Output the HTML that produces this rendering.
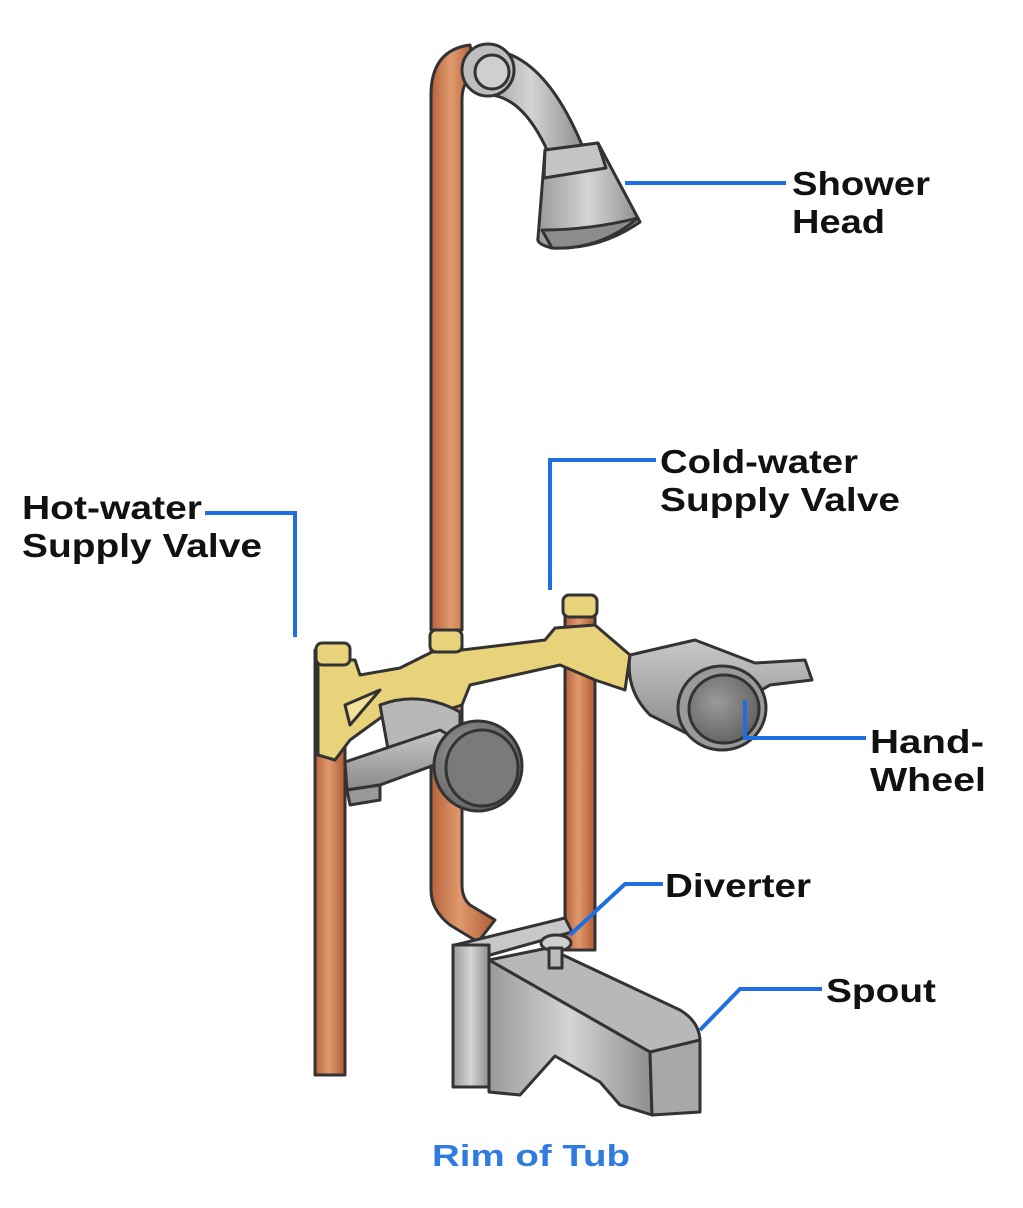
<!DOCTYPE html>
<html><head><meta charset="utf-8"><style>
html,body{margin:0;padding:0;background:#fff;}
svg{display:block;}
text{font-family:"Liberation Sans",sans-serif;font-weight:bold;}
</style></head><body>
<svg width="1023" height="1208" viewBox="0 0 1023 1208" xmlns="http://www.w3.org/2000/svg">
<defs>
<linearGradient id="cu" x1="0" x2="1"><stop offset="0" stop-color="#b8623a"/><stop offset="0.45" stop-color="#e09a6e"/><stop offset="1" stop-color="#b05a34"/></linearGradient>
<linearGradient id="gr" x1="0" x2="1"><stop offset="0" stop-color="#9a9a9a"/><stop offset="0.5" stop-color="#d4d4d4"/><stop offset="1" stop-color="#8e8e8e"/></linearGradient>
<linearGradient id="gr2" x1="0" y1="0" x2="0" y2="1"><stop offset="0" stop-color="#c8c8c8"/><stop offset="1" stop-color="#8a8a8a"/></linearGradient>
<radialGradient id="disc" cx="0.4" cy="0.4" r="0.7"><stop offset="0" stop-color="#9a9a9a"/><stop offset="1" stop-color="#5e5e5e"/></radialGradient>
</defs>
<g stroke="#333" stroke-width="3" stroke-linejoin="round">
<rect x="315" y="650" width="30" height="425" fill="url(#cu)"/>
<rect x="565" y="600" width="30" height="350" fill="url(#cu)"/>
<path d="M431 640 L431 890 Q431 910 450 925 L478 942 L495 920 L470 905 Q462 898 462 885 L462 640 Z" fill="url(#cu)"/>
<path d="M431 630 L431 95 Q431 50 470 45 L475 75 Q462 80 462 100 L462 630 Z" fill="url(#cu)"/>
<path d="M480 50 Q540 45 582 145 L548 152 Q520 90 480 95 Z" fill="url(#gr)"/>
<circle cx="488" cy="70" r="26" fill="#bdbdbd"/>
<circle cx="492" cy="72" r="17" fill="#cfcfcf"/>
<path d="M545 150 L598 143 L640 222 Q600 250 552 248 Q536 244 538 238 Z" fill="url(#gr)"/>
<path d="M545 150 L598 143 L606 168 L544 178 Z" fill="#c4c4c4"/>
<path d="M542 230 Q590 230 638 218 Q600 250 552 248 Z" fill="#8c8c8c"/>
<path d="M318 660 L355 660 L360 675 L400 668 L432 652 L462 650 L545 640 L555 628 L595 625 L630 655 L625 690 L595 680 L560 665 L470 685 L462 705 L440 712 L405 700 L350 740 L335 760 L318 755 Z" fill="#e8d27a"/>
<path d="M345 705 L380 690 L350 725 Z" fill="#f2e29a"/>
<rect x="316" y="643" width="34" height="22" rx="6" fill="#e8d27a"/>
<rect x="430" y="630" width="32" height="22" rx="6" fill="#e8d27a"/>
<rect x="563" y="595" width="34" height="22" rx="6" fill="#e8d27a"/>
<path d="M380 705 Q420 690 460 712 L460 760 L390 760 Z" fill="#b8b8b8"/>
<path d="M345 762 L440 730 L475 750 L380 785 L347 790 Z" fill="url(#gr2)"/>
<path d="M347 790 L380 785 L380 800 L350 805 Z" fill="#999"/>
<ellipse cx="478" cy="766" rx="44" ry="45" fill="url(#disc)"/>
<ellipse cx="482" cy="768" rx="36" ry="38" fill="#7a7a7a"/>
<path d="M630 655 L695 640 L755 663 L805 660 L812 680 L770 685 L745 700 L700 740 L650 715 Q625 690 630 655 Z" fill="url(#gr2)"/>
<ellipse cx="722" cy="708" rx="44" ry="42" fill="#9a9a9a"/>
<ellipse cx="724" cy="709" rx="35" ry="34" fill="url(#disc)"/>
<path d="M455 945 L565 918 L572 932 L490 955 Z" fill="#c8c8c8"/>
<rect x="453" y="945" width="36" height="142" fill="url(#gr)"/>
<path d="M489 960 L548 948 L680 1010 Q700 1022 700 1042 L650 1052 Z" fill="#b8b8b8"/>
<path d="M489 960 L650 1052 L652 1115 L620 1105 L600 1082 L555 1056 L520 1095 L489 1092 Z" fill="url(#gr)"/>
<path d="M650 1052 L700 1040 L700 1112 L652 1115 Z" fill="#a8a8a8"/>
<ellipse cx="556" cy="943" rx="15" ry="8" fill="#cfcfcf"/>
<rect x="549" y="948" width="13" height="20" fill="#bbb"/>
</g>
<g stroke="#1f6fe0" stroke-width="4" fill="none">
<path d="M625 183 L786 183"/>
<path d="M550 590 L550 460 L656 460"/>
<path d="M205 513 L295 513 L295 637"/>
<path d="M745 700 L745 738 L866 738"/>
<path d="M663 884 L625 884 L570 935"/>
<path d="M822 989 L740 989 L700 1030"/>
</g>
<g fill="#111" font-size="33">
<text x="792" y="195" textLength="138" lengthAdjust="spacingAndGlyphs">Shower</text>
<text x="792" y="233" textLength="93" lengthAdjust="spacingAndGlyphs">Head</text>
<text x="660" y="473" textLength="198" lengthAdjust="spacingAndGlyphs">Cold-water</text>
<text x="660" y="511" textLength="240" lengthAdjust="spacingAndGlyphs">Supply Valve</text>
<text x="22" y="519" textLength="180" lengthAdjust="spacingAndGlyphs">Hot-water</text>
<text x="22" y="557" textLength="240" lengthAdjust="spacingAndGlyphs">Supply Valve</text>
<text x="870" y="753" textLength="114" lengthAdjust="spacingAndGlyphs">Hand-</text>
<text x="870" y="791" textLength="116" lengthAdjust="spacingAndGlyphs">Wheel</text>
<text x="665" y="897" textLength="146" lengthAdjust="spacingAndGlyphs">Diverter</text>
<text x="826" y="1002" textLength="110" lengthAdjust="spacingAndGlyphs">Spout</text>
</g>
<text x="432" y="1166" fill="#2f7be0" font-size="31" textLength="198" lengthAdjust="spacingAndGlyphs">Rim of Tub</text>
</svg>
</body></html>
